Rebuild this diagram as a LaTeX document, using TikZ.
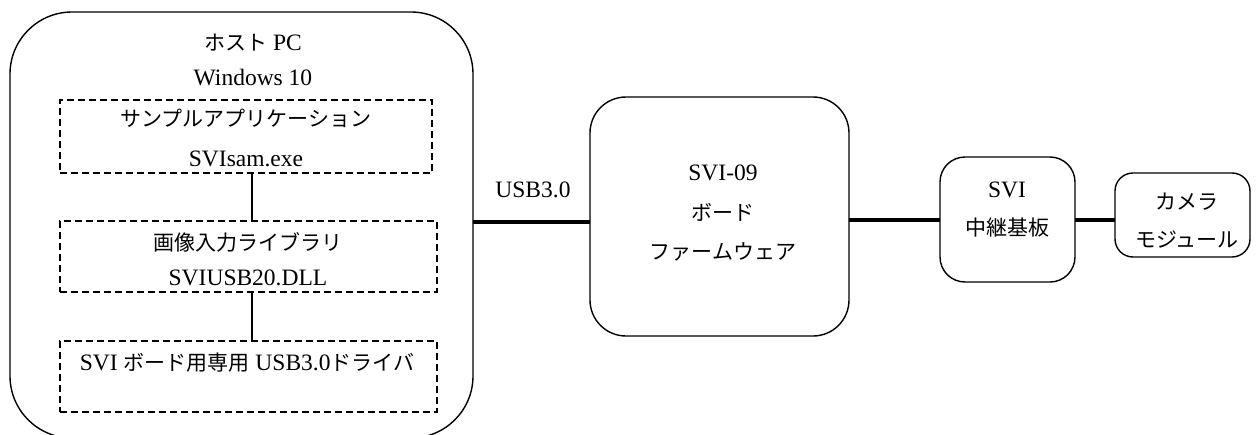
\documentclass[tikz,border=0pt]{standalone}
\usepackage{fontspec}
\setmainfont{Liberation Serif}
\newfontfamily\jp{Noto Sans CJK JP}
\begin{document}
\begin{tikzpicture}[x=1pt,y=-1pt,
  every node/.style={inner sep=0pt,outer sep=0pt},
  txt/.style={font=\fontsize{23.5}{27}\selectfont},
  solidbox/.style={draw,line width=1.4pt,fill=none},
  dashbox/.style={draw,line width=1.4pt,dash pattern=on 7pt off 4pt},
  thinlink/.style={line width=1.4pt},
  thicklink/.style={line width=3.3pt}]
\newcommand{\J}[1]{{\jp\fontsize{21}{25}\selectfont #1}}
\useasboundingbox (0,0) rectangle (1259,434);
% containers
\node[solidbox,rounded corners=62pt,minimum width=463pt,minimum height=426pt] (host) at (241.5,225) {};
\node[dashbox,minimum width=372pt,minimum height=73pt] (app) at (246,136.5) {};
\node[dashbox,minimum width=377pt,minimum height=71pt] (lib) at (248.5,256.5) {};
\node[dashbox,minimum width=377pt,minimum height=71pt] (drv) at (248.5,376.5) {};
\node[solidbox,rounded corners=36pt,minimum width=259pt,minimum height=239pt] (fw) at (719.5,216.5) {};
\node[solidbox,rounded corners=25pt,minimum width=135pt,minimum height=125pt] (relay) at (1007.5,219.5) {};
\node[solidbox,rounded corners=18pt,minimum width=135pt,minimum height=84pt] (cam) at (1182.5,215) {};
% texts
\node[txt] (t1) at (253,43) {\J{ホスト} PC};
\node[txt] (t2) at (253,78) {Windows 10};
\node[txt] (t3) at (246,118) {\J{サンプルアプリケーション}};
\node[txt] (t4) at (246,159) {SVIsam.exe};
\node[txt] (t5) at (248,242) {\J{画像入力ライブラリ}};
\node[txt] (t6) at (248,278) {SVIUSB20.DLL};
\node[txt] (t7) at (247,363) {SVI \J{ボード用専用} USB3.0\J{ドライバ}};
\node[txt] (t8) at (533,190) {USB3.0};
\node[txt] (t9) at (723,173) {SVI-09};
\node[txt] (t10) at (723,212) {\J{ボード}};
\node[txt] (t11) at (723,252) {\J{ファームウェア}};
\node[txt] (t12) at (1007,190) {SVI};
\node[txt] (t13) at (1007,228) {\J{中継基板}};
\node[txt] (t14) at (1187,202) {\J{カメラ}};
\node[txt] (t15) at (1187,240) {\J{モジュール}};
% connectors
\coordinate (xl) at (252,0);
\coordinate (yu) at (0,222);
\coordinate (yr) at (0,220);
\draw[thinlink] (app.south -| xl) -- (lib.north -| xl);
\draw[thinlink] (lib.south -| xl) -- (drv.north -| xl);
\draw[thicklink] (host.east |- yu) -- (fw.west |- yu);
\draw[thicklink] (fw.east |- yr) -- (relay.west |- yr);
\draw[thicklink] (relay.east |- yr) -- (cam.west |- yr);
\end{tikzpicture}
\end{document}
